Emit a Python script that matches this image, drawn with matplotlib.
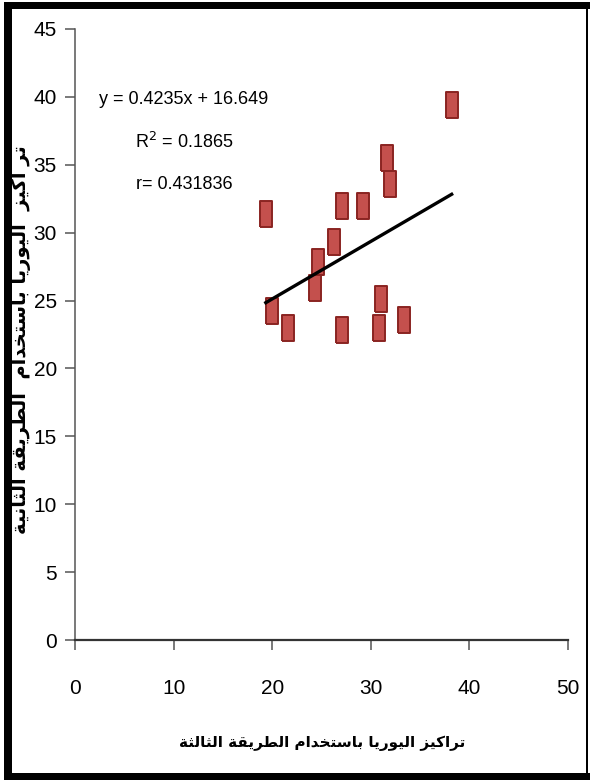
import matplotlib

matplotlib.use("Agg")
import matplotlib.pyplot as plt  # noqa: E402
import numpy as np  # noqa: E402
from matplotlib.patches import Rectangle  # noqa: E402

# --- dados ---
metodo3 = [38.2, 31.6, 31.95, 27.1, 29.2, 19.35, 26.3, 24.6, 24.35, 20.0, 31.0, 21.6, 27.1, 30.8, 33.4]
metodo2 = [39.4, 35.5, 33.55, 32.0, 32.0, 31.4, 29.3, 27.85, 25.9, 24.2, 25.1, 23.0, 22.85, 23.0, 23.6]
inclinacao = 0.4235
intercepto = 16.649
r2 = 0.1865
r = 0.431836

rotulo_x = "تراكيز اليوريا باستخدام الطريقة الثالثة"
rotulo_y = "تر اكيز  اليوريا باستخدام  الطريقة الثانية"

# formas de apresentação árabes: (isolada, final, inicial, medial)
FORMAS = {
    "ا": (0xFE8D, 0xFE8E, None, None),
    "ب": (0xFE8F, 0xFE90, 0xFE91, 0xFE92),
    "ة": (0xFE93, 0xFE94, None, None),
    "ت": (0xFE95, 0xFE96, 0xFE97, 0xFE98),
    "ث": (0xFE99, 0xFE9A, 0xFE9B, 0xFE9C),
    "خ": (0xFEA5, 0xFEA6, 0xFEA7, 0xFEA8),
    "د": (0xFEA9, 0xFEAA, None, None),
    "ر": (0xFEAD, 0xFEAE, None, None),
    "ز": (0xFEAF, 0xFEB0, None, None),
    "س": (0xFEB1, 0xFEB2, 0xFEB3, 0xFEB4),
    "ط": (0xFEC1, 0xFEC2, 0xFEC3, 0xFEC4),
    "ق": (0xFED5, 0xFED6, 0xFED7, 0xFED8),
    "ك": (0xFED9, 0xFEDA, 0xFEDB, 0xFEDC),
    "ل": (0xFEDD, 0xFEDE, 0xFEDF, 0xFEE0),
    "م": (0xFEE1, 0xFEE2, 0xFEE3, 0xFEE4),
    "ن": (0xFEE5, 0xFEE6, 0xFEE7, 0xFEE8),
    "و": (0xFEED, 0xFEEE, None, None),
    "ي": (0xFEF1, 0xFEF2, 0xFEF3, 0xFEF4),
}


def moldar(texto):
    """Liga as letras árabes e inverte para ordem visual."""
    saida = []
    for i, c in enumerate(texto):
        if c not in FORMAS:
            saida.append(c)
            continue
        ant = texto[i - 1] if i > 0 else ""
        prox = texto[i + 1] if i + 1 < len(texto) else ""
        liga_ant = ant in FORMAS and FORMAS[ant][2] is not None
        liga_prox = FORMAS[c][2] is not None and prox in FORMAS
        iso, fin, ini, med = FORMAS[c]
        if liga_ant and liga_prox:
            cp = med
        elif liga_ant:
            cp = fin
        elif liga_prox:
            cp = ini
        else:
            cp = iso
        saida.append(chr(cp))
    return "".join(saida)[::-1]


plt.rcParams["font.family"] = ["Liberation Sans", "DejaVu Sans"]

fig = plt.figure(figsize=(5.9, 7.8), dpi=100)
W, H = 590, 780
ax = fig.add_axes([75 / W, (H - 640) / H, (568 - 75) / W, (640 - 29) / H])

# moldura preta em volta da figura
for x0, y0, w, h in [(4, 0, 8, 778), (4, 0, 586, 7), (4, 771, 586, 7), (586, 0, 2, 778)]:
    fig.add_artist(Rectangle((x0 / W, y0 / H), w / W, h / H, transform=fig.transFigure,
                             facecolor="black", edgecolor="none"))

retangulo = [(-0.22, -0.5), (0.22, -0.5), (0.22, 0.5), (-0.22, 0.5), (-0.22, -0.5)]
ax.plot(metodo3, metodo2, linestyle="none", marker=retangulo, markersize=19,
        markerfacecolor="#c4504d", markeredgecolor="#8a2421", markeredgewidth=1.4, zorder=3)

xs = np.array([min(metodo3), max(metodo3)])
ax.plot(xs, inclinacao * xs + intercepto, color="black", linewidth=2.4, zorder=4)

ax.set_xlim(0, 50)
ax.set_ylim(0, 45)
ax.set_xticks(range(0, 51, 10))
ax.set_yticks(range(0, 46, 5))
for lado in ["top", "right"]:
    ax.spines[lado].set_visible(False)
ax.spines["left"].set_color("#555555")
ax.spines["bottom"].set_color("#333333")
ax.spines["left"].set_linewidth(1.1)
ax.spines["bottom"].set_linewidth(1.6)
ax.tick_params(axis="both", direction="out", length=7, width=1.1, colors="#555555",
               labelcolor="black", labelsize=15)
ax.tick_params(axis="x", pad=21)
ax.tick_params(axis="y", pad=6)

ax.text(0.221, 0.884, f"y = {inclinacao}x + {intercepto}", transform=ax.transAxes,
        ha="center", va="center", fontsize=13)
ax.text(0.221, 0.815, f"R$^2$ = {r2}", transform=ax.transAxes, ha="center", va="center",
        fontsize=13)
ax.text(0.221, 0.746, f"r= {r}", transform=ax.transAxes, ha="center", va="center", fontsize=13)

fig.text(322 / W, 1 - 743 / H, moldar(rotulo_x), ha="center", va="center", fontsize=11,
         fontweight="bold", family=["DejaVu Sans"])
fig.text(21 / W, 1 - 340 / H, moldar(rotulo_y), ha="center", va="center", rotation=90,
         fontsize=14, fontweight="bold", family=["DejaVu Sans"])

fig.savefig("out.png", dpi=100)
plt.close(fig)
